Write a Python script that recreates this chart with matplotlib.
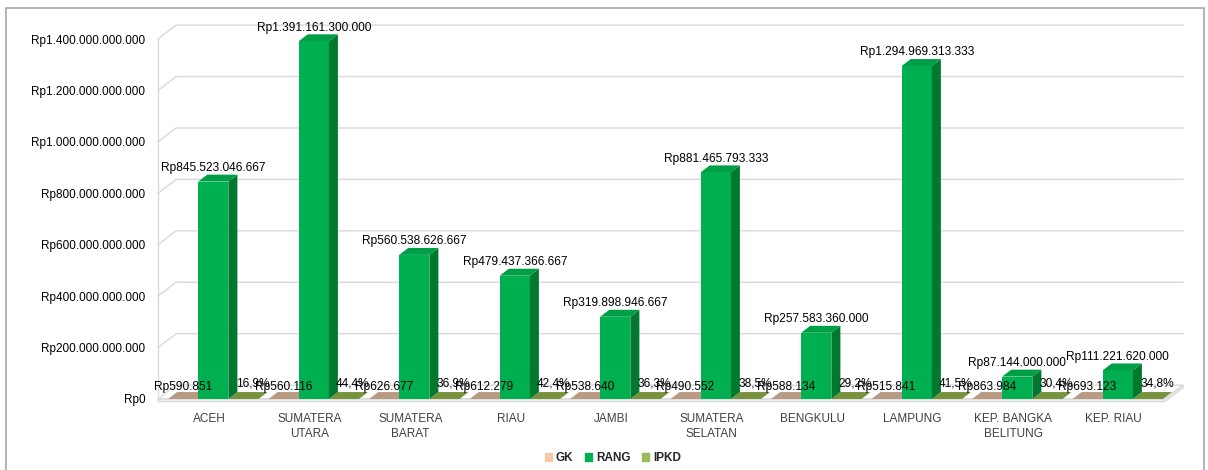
import matplotlib
matplotlib.use("Agg")
import matplotlib.pyplot as plt
from matplotlib.patches import Polygon, Patch, Rectangle
import numpy as np

plt.rcParams['font.family'] = ['Liberation Sans', 'DejaVu Sans']

# data
provinces = ["ACEH", "SUMATERA\nUTARA", "SUMATERA\nBARAT", "RIAU", "JAMBI",
             "SUMATERA\nSELATAN", "BENGKULU", "LAMPUNG", "KEP. BANGKA\nBELITUNG", "KEP. RIAU"]
gk = [590851, 560116, 626677, 612279, 538640, 490552, 588134, 515841, 863984, 693123]
rang = [845523046667, 1391161300000, 560538626667, 479437366667, 319898946667,
        881465793333, 257583360000, 1294969313333, 87144000000, 111221620000]
ipkd = [0.169, 0.444, 0.369, 0.424, 0.363, 0.385, 0.292, 0.415, 0.304, 0.348]
yticks = [0, 200e9, 400e9, 600e9, 800e9, 1000e9, 1200e9, 1400e9]

# colors
c_gk_leg, c_gk_top = "#F4C7A6", "#B89A82"
c_rang, c_rang_side, c_rang_top = "#00B050", "#00782F", "#009E46"
c_ipkd_leg, c_ipkd_top = "#9BBB59", "#76923C"
grid_c = "#D9D9D9"
txt_c = "#404040"


def rp(v):
    return "Rp" + f"{v:,}".replace(",", ".")


def pct(v):
    return f"{v*100:.1f}%".replace(".", ",")


fig = plt.figure(figsize=(12.08, 4.70), dpi=100)
ax = fig.add_axes([158/1208, 71/470, 1007/1208, 360/470])
x0, x1 = -0.55, 9.47
ax.set_xlim(x0, x1)
ax.set_ylim(0, 1400e9)
for s in ax.spines.values():
    s.set_visible(False)

# 3d offsets (data units)
wdx, wdy = 0.18, 54e9   # walls
bdx, bdy = 0.09, 27e9   # bars
w = 0.3

# walls / grid
for t in yticks[1:]:
    ax.plot([x0, x0 + wdx, x1 + wdx], [t, t + wdy, t + wdy], color=grid_c, lw=1, clip_on=False, zorder=0)
ax.plot([x0, x0], [0, 1400e9], color=grid_c, lw=1, clip_on=False, zorder=0)
floor = Polygon([[x0, 0], [x1, 0], [x1 + wdx, wdy], [x0 + wdx, wdy]], closed=True,
                facecolor="white", edgecolor=grid_c, lw=1, clip_on=False, zorder=1)
ax.add_patch(floor)
ax.add_patch(Polygon([[x0, 0], [x1, 0], [x1 + wdx, wdy], [x1 + wdx, wdy - 10e9], [x1, -10e9], [x0, -10e9]],
                     closed=True, facecolor="#F2F2F2", edgecolor=grid_c, lw=1, clip_on=False, zorder=1))

x = np.arange(len(provinces))


def bar3d(xc, h, front, side, top):
    l, r = xc - w/2, xc + w/2
    ax.bar(xc, h, width=w, color=front, zorder=3, linewidth=0)
    ax.add_patch(Polygon([[r, 0], [r + bdx, bdy], [r + bdx, h + bdy], [r, h]], closed=True,
                         facecolor=side, lw=0, zorder=3, clip_on=False))
    ax.add_patch(Polygon([[l, h], [r, h], [r + bdx, h + bdy], [l + bdx, h + bdy]], closed=True,
                         facecolor=top, lw=0, zorder=3, clip_on=False))


for i in x:
    bar3d(i - w, gk[i], c_gk_top, c_gk_top, c_gk_top)
    bar3d(i + w, ipkd[i], c_ipkd_top, c_ipkd_top, c_ipkd_top)
    bar3d(i, rang[i], c_rang, c_rang_side, c_rang_top)

# labels (they overlap in the original too)
for i in x:
    ax.annotate(rp(rang[i]), (i + 0.0, rang[i] + bdy), xytext=(0, 0.5), textcoords="offset points",
                ha="center", va="bottom", fontsize=8.6, color="black", zorder=5, annotation_clip=False)
    ax.annotate(rp(gk[i]), (i - w, gk[i]), xytext=(0, 8.5), textcoords="offset points",
                ha="center", va="center", fontsize=8.6, color="black", zorder=5, annotation_clip=False)
    ax.annotate(pct(ipkd[i]), (i + w + 0.09, ipkd[i]), xytext=(0, 11.5), textcoords="offset points",
                ha="center", va="center", fontsize=8.6, color="black", zorder=4, annotation_clip=False)

ax.set_yticks(yticks)
ax.set_yticklabels([rp(int(t)) for t in yticks], fontsize=8.5, color="black")
ax.set_xticks(x - 0.04)
ax.set_xticklabels(provinces, fontsize=8.5, color=txt_c, linespacing=1.3)
ax.tick_params(axis="both", length=0)
ax.tick_params(axis="y", pad=9)
ax.tick_params(axis="x", pad=10)

handles = [Patch(color=c_gk_leg, label="GK"), Patch(color=c_rang, label="RANG"),
           Patch(color=c_ipkd_leg, label="IPKD")]
leg = fig.legend(handles=handles, loc="center", bbox_to_anchor=(613/1208, 1 - 458/470), ncol=3,
                 frameon=False, handlelength=0.6, handleheight=0.6, handletextpad=0.3, columnspacing=1.0,
                 prop={"size": 8.5, "weight": "bold"})
for t in leg.get_texts():
    t.set_color("#262626")

fig.patches.append(Rectangle((6/1208, -0.02), 1198/1208, 1 - 8/470 + 0.02, transform=fig.transFigure,
                             fill=False, edgecolor="#A6A6A6", lw=1.2))

fig.savefig("out.png", dpi=100)
